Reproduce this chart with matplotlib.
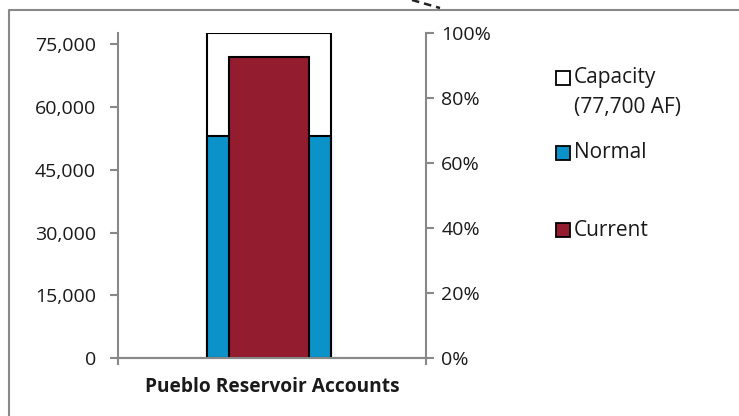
import numpy as np
import matplotlib
matplotlib.use("Agg")
from matplotlib import pyplot as plt
from matplotlib.lines import Line2D
from matplotlib.patches import Rectangle
from matplotlib.ticker import FuncFormatter, PercentFormatter

category = "Pueblo Reservoir Accounts"
capacity = 77700
normal = 53000
current = 71900
left_ticks = [0, 15000, 30000, 45000, 60000, 75000]
right_ticks = [0, 0.2, 0.4, 0.6, 0.8, 1.0]
legend_labels = ["Capacity\n(77,700 AF)", "Normal", "Current"]

blue = "#0b92c8"
red = "#941c2f"
grey = "#888888"
txt = "#1a1a1a"

plt.rcParams["font.family"] = ["Open Sans", "DejaVu Sans"]

W, H = 739, 416
fig = plt.figure(figsize=(W / 100, H / 100), dpi=100)
ax = fig.add_axes([118 / W, 1 - 358 / H, 308 / W, 325 / H])

ax.bar(0, capacity, width=0.4, color="white", edgecolor="black", linewidth=1.5, zorder=2)
ax.bar(0, normal, width=0.4, color=blue, edgecolor="black", linewidth=1.5, zorder=3)
ax.bar(0, current, width=0.26, color=red, edgecolor="black", linewidth=1.5, zorder=4)
ax.set_xlim(-0.49, 0.51)
ax.set_ylim(0, capacity)

ax.set_yticks(left_ticks)
ax.yaxis.set_major_formatter(FuncFormatter(lambda v, p: f"{int(v):,}"))
ax.set_xticks([-0.49, 0.51])
ax.set_xticklabels(["", ""])
ax.set_xlabel(category, fontsize=13.8, fontweight="bold", color=txt, labelpad=5)

ax2 = ax.twinx()
ax2.set_ylim(0, 1)
ax2.set_yticks(right_ticks)
ax2.yaxis.set_major_formatter(PercentFormatter(1.0, decimals=0))

for a in (ax, ax2):
    for s in a.spines.values():
        s.set_color(grey)
        s.set_linewidth(1.5)
    a.spines["top"].set_visible(False)
    a.tick_params(colors=grey, labelcolor=txt, labelsize=14, width=1.5, length=6)
ax.tick_params(axis="y", pad=10)
ax.tick_params(axis="x", length=5)
ax2.tick_params(axis="y", pad=5)
ax2.spines["left"].set_visible(False)
ax.spines["right"].set_visible(False)

# legend drawn by hand so the markers sit on the first text line
legend_colors = ["white", blue, red]
legend_y = [78, 153, 230]
for lab, c, yy in zip(legend_labels, legend_colors, legend_y):
    fig.add_artist(Rectangle((556 / W, 1 - (yy + 7) / H), 14 / W, 14 / H,
                             facecolor=c, edgecolor="black", linewidth=1.3,
                             transform=fig.transFigure))
    lines = lab.split("\n")
    for i, ln in enumerate(lines):
        fig.text(574 / W, 1 - (yy + i * 29) / H, ln, fontsize=15, color=txt,
                 ha="left", va="center")

# chart border and arrow fragment at the top
fig.add_artist(Line2D([9 / W, 9 / W, 1.0], [0.0, 1 - 10 / H, 1 - 10 / H],
                      color=grey, linewidth=1.5))
fig.add_artist(Line2D([412 / W, 440 / W], [1.0, 1 - 8 / H],
                      color="#222222", linewidth=1.8, linestyle=(0, (3, 2))))

fig.savefig("out.png", dpi=100)
